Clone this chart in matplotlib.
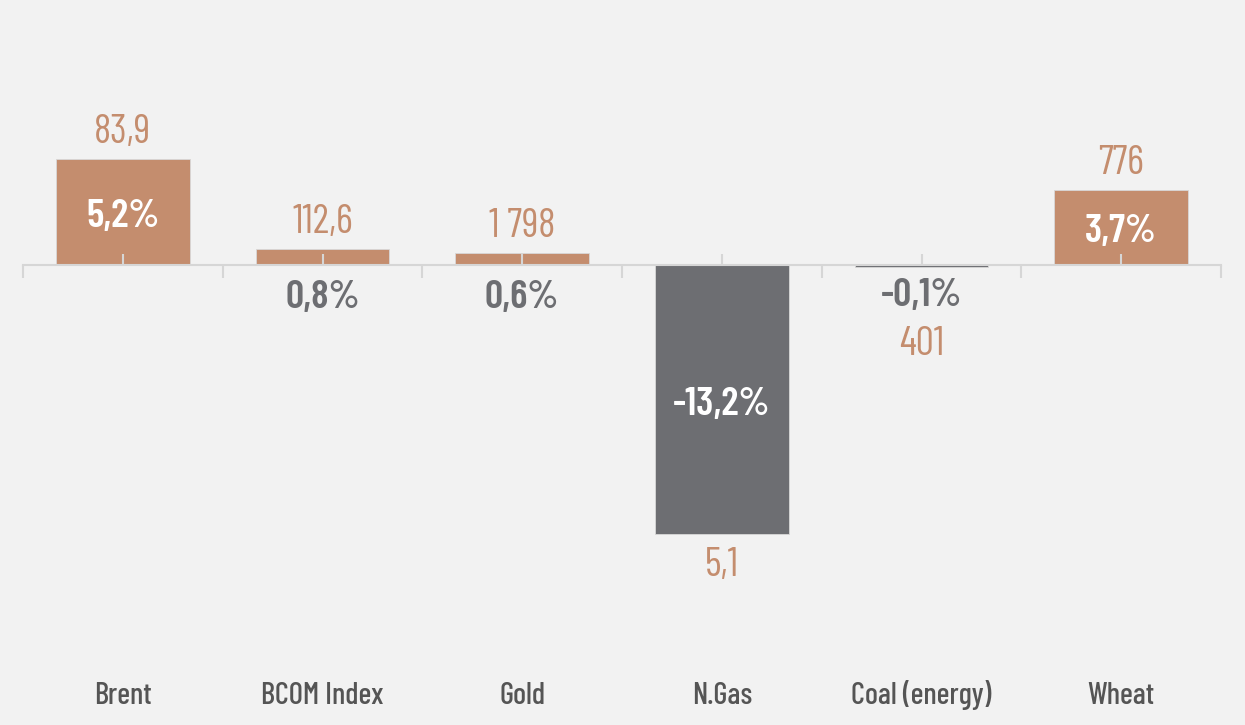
import numpy as np
import matplotlib
matplotlib.use("Agg")
import matplotlib.pyplot as plt
from matplotlib import font_manager
from matplotlib.transforms import blended_transform_factory

# chart data
categories = ["Brent", "BCOM Index", "Gold", "N.Gas", "Coal (energy)", "Wheat"]
pct_change = [5.2, 0.8, 0.6, -13.2, -0.1, 3.7]
pct_labels = ["5,2%", "0,8%", "0,6%", "-13,2%", "-0,1%", "3,7%"]
price_labels = ["83,9", "112,6", "1 798", "5,1", "401", "776"]

copper = "#c48d6e"
grey = "#6d6e72"
bg = "#f2f2f2"

# pick a narrow font if one is there
names = {f.name for f in font_manager.fontManager.ttflist}
fam = "DejaVu Sans"
for cand in ["Barlow Condensed", "Roboto Condensed", "Oswald", "PT Sans Narrow", "Archivo Narrow"]:
    if cand in names:
        fam = cand
        break
plt.rcParams["font.family"] = [fam, "DejaVu Sans"]

fig = plt.figure(figsize=(12.45, 7.25), dpi=100, facecolor=bg)
# axes spans x 23..1221 px, y 30..660 px (from top)
ax = fig.add_axes([23 / 1245, 65 / 725, 1198 / 1245, 630 / 725])
ax.set_facecolor(bg)

scale = 20.4  # px per percent point
ax.set_ylim(-(660 - 265) / scale, (265 - 30) / scale)
ax.set_xlim(-0.5, len(categories) - 0.5)

x = np.arange(len(categories))
colors = [copper if v > 0 else grey for v in pct_change]
ax.bar(x, pct_change, width=0.67, color=colors, edgecolor="#d8d8d8", linewidth=0.6, zorder=1)
ax.set_axisbelow(False)

# axis line with ticks
for s in ["top", "right", "left"]:
    ax.spines[s].set_visible(False)
ax.spines["bottom"].set_position(("data", 0))
ax.spines["bottom"].set_color("#d6d6d6")
ax.spines["bottom"].set_linewidth(1.5)
ax.spines["bottom"].set_zorder(3)
ax.set_yticks([])
ax.set_xticks(np.arange(-0.5, len(categories)), minor=False)
ax.set_xticklabels([])
ax.set_xticks(x, minor=True)
ax.tick_params(axis="x", which="major", direction="out", length=9, width=1.5, color="#d6d6d6")
ax.tick_params(axis="x", which="minor", direction="in", length=8, width=1.5, color="#d6d6d6")

px = 1 / scale
big = 29
kw = dict(ha="center", va="baseline", fontsize=big)
for i, v in enumerate(pct_change):
    if abs(v) > 2:
        # big bar: percent inside, price outside the end
        ax.text(i, v / 2 - 15 * px, pct_labels[i], color="white", fontweight="semibold", zorder=4, **kw)
        if v > 0:
            ax.text(i, v + 16 * px, price_labels[i], color=copper, **kw)
        else:
            ax.text(i, v - 42 * px, price_labels[i], color=copper, **kw)
    elif v > 0:
        ax.text(i, v + 16 * px, price_labels[i], color=copper, **kw)
        ax.text(i, -43 * px, pct_labels[i], color=grey, fontweight="semibold", **kw)
    else:
        ax.text(i, -41 * px, pct_labels[i], color=grey, fontweight="semibold", **kw)
        ax.text(i, -90 * px, price_labels[i], color=copper, **kw)

# category names along the bottom
trans = blended_transform_factory(ax.transData, fig.transFigure)
for i, c in enumerate(categories):
    ax.text(i, 1 - 704 / 725, c, transform=trans, ha="center", va="baseline",
            color="#555555", fontsize=22, fontweight="medium")

fig.savefig("out.png", dpi=100, facecolor=bg)
